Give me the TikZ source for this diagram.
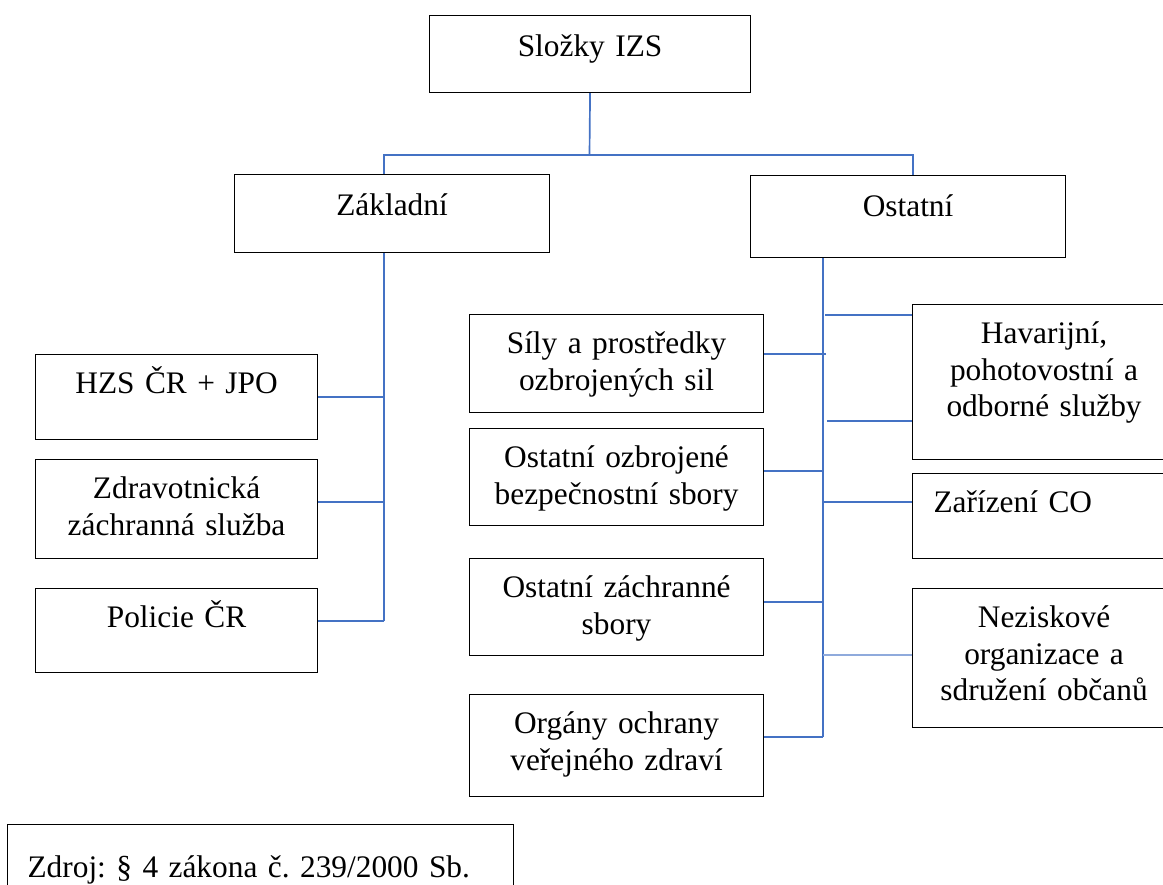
\documentclass[tikz,border=0pt]{standalone}
\usepackage{fontspec}
\setmainfont{Liberation Serif}
\usepackage{xcolor}
\usepackage{tikz}
\newdimen\pxu
\pxu=0.025cm
\definecolor{izsblue}{RGB}{68,114,196}
\definecolor{izslight}{RGB}{143,170,220}
\frenchspacing

\begin{document}
\begin{tikzpicture}[x=0.025cm, y=-0.025cm,
  box/.style={rectangle, draw=black, line width=0.8pt, anchor=north west, inner sep=0pt, align=center, text height=39\pxu, font=\fontsize{22.3}{26}\selectfont},
  conn/.style={draw=izsblue, line width=1.2pt}]
\useasboundingbox (0,0) rectangle (1163,884);
\node [box, text width=321\pxu, text height=41\pxu, text depth=36\pxu] (izs) at (429,15) {Složky IZS};
\node [box, text width=315\pxu, text height=41\pxu, text depth=37\pxu] (zakl) at (234,174) {Základní};
\node [box, text width=315\pxu, text height=41\pxu, text depth=41\pxu] (ost) at (750,175) {Ostatní};
\node [box, text width=282\pxu, text depth=46\pxu] (hzs) at (35,354) {HZS ČR + JPO};
\node [box, text width=282\pxu, text depth=60\pxu] (zzs) at (35,459) {Zdravotnická\\záchranná služba};
\node [box, text width=282\pxu, text depth=45\pxu] (pcr) at (35,588) {Policie ČR};
\node [box, text width=294\pxu, text depth=59\pxu] (sily) at (469,314) {Síly a prostředky\\ozbrojených sil};
\node [box, text width=294\pxu, text depth=58\pxu] (obs) at (469,428) {Ostatní ozbrojené\\bezpečnostní sbory};
\node [box, text width=294\pxu, text depth=58\pxu] (ozs) at (469,558) {Ostatní záchranné\\sbory};
\node [box, text width=294\pxu, text depth=63\pxu] (oovz) at (469,694) {Orgány ochrany\\veřejného zdraví};
\node [box, text width=263\pxu, text depth=116\pxu] (hav) at (912,304) {Havarijní,\\pohotovostní a\\odborné služby};
\node [box, text width=221\pxu, inner xsep=21\pxu, align=left, text depth=46\pxu] (zco) at (912,473) {Zařízení CO};
\node [box, text width=263\pxu, text depth=100\pxu] (nno) at (912,588) {Neziskové\\organizace a\\sdružení občanů};
\node [box, text width=466\pxu, inner xsep=20\pxu, align=left, text height=53\pxu, text depth=37\pxu] (zdroj) at (7,824) {Zdroj: § 4 zákona č. 239/2000 Sb.};
\coordinate (split) at (589.5,155);
\coordinate (zaklTop) at (384,174);
\coordinate (ostTop) at (913,175);
\draw [conn] (izs.south) to (split);
\draw [conn] (zaklTop) |- (split) -| (ostTop);
\coordinate (zb1) at (384,397);
\coordinate (zb2) at (384,502);
\coordinate (zb3) at (384,621);
\draw [conn] (zakl.south -| zb1) to (zb3);
\draw [conn] (zb1) to (zb1 -| hzs.east);
\draw [conn] (zb2) to (zb2 -| zzs.east);
\draw [conn] (zb3) to (zb3 -| pcr.east);
\coordinate (ob1) at (825,315);
\coordinate (ob2) at (826,354);
\coordinate (ob3) at (827,421);
\coordinate (ob4) at (823,471);
\coordinate (ob5) at (823,502);
\coordinate (ob6) at (823,602);
\coordinate (ob7) at (823,655);
\coordinate (ob8) at (823,737);
\draw [conn] (ost.south -| ob8) to (ob8);
\draw [conn] (ob1) to (ob1 -| hav.west);
\draw [conn] (ob2) to (ob2 -| sily.east);
\draw [conn] (ob3) to (ob3 -| hav.west);
\draw [conn] (ob4) to (ob4 -| obs.east);
\draw [conn] (ob5) to (ob5 -| zco.west);
\draw [conn] (ob6) to (ob6 -| ozs.east);
\draw [conn, draw=izslight, line width=1pt] (ob7) to (ob7 -| nno.west);
\draw [conn] (ob8) to (ob8 -| oovz.east);
\end{tikzpicture}
\end{document}
